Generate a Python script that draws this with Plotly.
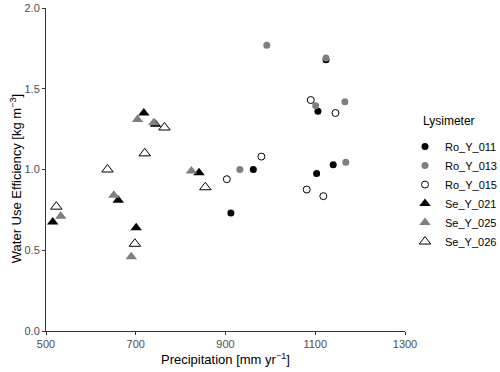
import plotly.graph_objects as go

# data (precipitation [mm/yr], WUE [kg m-3])
ro_y_011_x = [912, 962, 1103, 1106, 1124, 1140]
ro_y_011_y = [0.73, 1.00, 0.975, 1.36, 1.68, 1.03]
ro_y_013_x = [932, 992, 1101, 1124, 1166, 1168]
ro_y_013_y = [1.00, 1.77, 1.395, 1.69, 1.42, 1.045]
ro_y_015_x = [903, 980, 1081, 1090, 1118, 1145]
ro_y_015_y = [0.94, 1.08, 0.876, 1.43, 0.835, 1.35]
se_y_021_x = [515, 661, 701, 718, 744, 841]
se_y_021_y = [0.675, 0.81, 0.64, 1.35, 1.28, 0.98]
se_y_025_x = [533, 651, 690, 704, 740, 824]
se_y_025_y = [0.71, 0.84, 0.46, 1.31, 1.29, 0.99]
se_y_026_x = [523, 637, 698, 720, 764, 855]
se_y_026_y = [0.77, 1.00, 0.54, 1.10, 1.26, 0.89]

series = [
    ("Ro_Y_011", ro_y_011_x, ro_y_011_y, "circle", "black"),
    ("Ro_Y_013", ro_y_013_x, ro_y_013_y, "circle", "#7f7f7f"),
    ("Ro_Y_015", ro_y_015_x, ro_y_015_y, "circle-open", "black"),
    ("Se_Y_021", se_y_021_x, se_y_021_y, "triangle-up", "black"),
    ("Se_Y_025", se_y_025_x, se_y_025_y, "triangle-up", "#7f7f7f"),
    ("Se_Y_026", se_y_026_x, se_y_026_y, "triangle-up-open", "black"),
]

FONT = "Liberation Sans, Arial"

fig = go.Figure()
for name, xs, ys, sym, col in series:
    size = 7 if sym.startswith("circle") else 10
    fig.add_trace(go.Scatter(
        x=xs, y=ys, mode="markers", name=name,
        marker=dict(symbol=sym, size=size, color=col,
                    line=dict(color=col, width=1 if "open" in sym else 0)),
    ))

axis_common = dict(
    showgrid=False, zeroline=False, showline=True, linecolor="#333333",
    linewidth=1, ticks="outside", ticklen=3, tickcolor="#333333",
    tickfont=dict(family=FONT, size=11, color="#4d4d4d"),
    automargin=False,
)

fig.update_layout(
    width=500, height=372,
    margin=dict(l=46, r=93, t=8, b=41),
    paper_bgcolor="white", plot_bgcolor="white",
    font=dict(family=FONT, color="black"),
    xaxis=dict(range=[500, 1300], tickvals=[500, 700, 900, 1100, 1300],
               **axis_common),
    yaxis=dict(range=[0, 2.0], tickvals=[0, 0.5, 1.0, 1.5, 2.0],
               tickformat=".1f", **axis_common),
    legend=dict(font=dict(size=11), xref="container", yref="container",
                x=0.81, y=0.645, xanchor="left", yanchor="top",
                tracegroupgap=0, itemwidth=30),
    annotations=[
        dict(text="Precipitation [mm yr<sup>−1</sup>]", xref="paper", yref="paper",
             x=0.5, y=0, yshift=-28, xanchor="center", yanchor="middle",
             showarrow=False, font=dict(size=13)),
        dict(text="Water Use Efficiency [kg m<sup>−3</sup>]", xref="paper", yref="paper",
             x=0, xshift=-30, y=0.47, xanchor="center", yanchor="middle",
             textangle=-90, showarrow=False, font=dict(size=13)),
        dict(text="Lysimeter", xref="paper", yref="paper",
             x=1.044, y=0.65, xanchor="left", yanchor="middle",
             showarrow=False, font=dict(size=12)),
    ],
)

fig.write_html("out.html", config={"displayModeBar": False},
               post_script="document.body.style.margin='0';")
